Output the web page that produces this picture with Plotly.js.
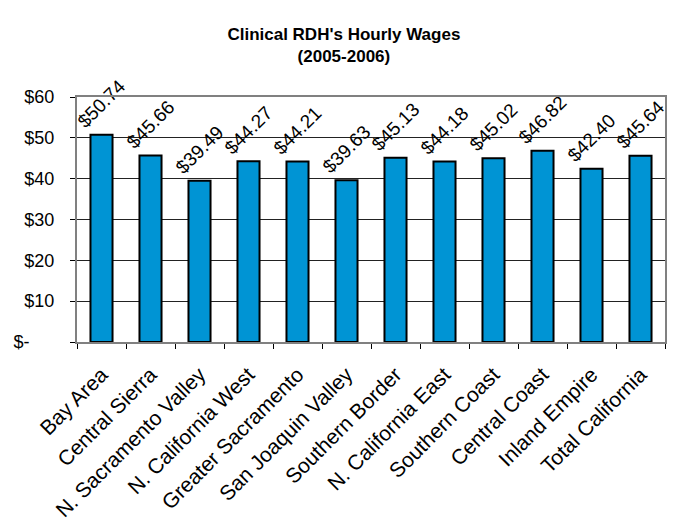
<!DOCTYPE html>
<html><head><meta charset="utf-8">
<script src="https://cdn.plot.ly/plotly-3.0.1.min.js"></script>
<style>html,body{margin:0;padding:0;background:#fff}#chart{width:681px;height:529px}</style>
</head><body><div id="chart"></div>
<script>
const categories = ["Bay Area","Central Sierra","N. Sacramento Valley","N. California West","Greater Sacramento","San Joaquin Valley","Southern Border","N. California East","Southern Coast","Central Coast","Inland Empire","Total California"];
const wages = [50.74,45.66,39.49,44.27,44.21,39.63,45.13,44.18,45.02,46.82,42.40,45.64];
const yTickVals = [0,10,20,30,40,50,60];
const yTickText = ["$-\u00a0\u00a0\u00a0\u00a0\u00a0","$10","$20","$30","$40","$50","$60"];

const font = "Liberation Sans";
Plotly.newPlot('chart',[{
  type:'bar', x:categories, y:wages, width:0.45,
  text:wages.map(v=>'$'+v.toFixed(2)), textposition:'outside', textangle:-45,
  cliponaxis:false, constraintext:'none',
  outsidetextfont:{family:font,size:19,color:'#000'},
  marker:{color:'#0094D4', line:{color:'#000',width:2}}
}],{
  width:681,height:529,
  margin:{l:77,r:16,t:97,b:187},
  paper_bgcolor:'#fff', plot_bgcolor:'#fff',
  title:{text:"<b>Clinical RDH's Hourly Wages<br>(2005-2006)</b>", font:{family:font,size:17,color:'#000'}, x:0.505, xanchor:'center', y:0.925, yanchor:'top'},
  showlegend:false,
  xaxis:{type:'category', tickangle:-45, ticks:'outside', tickson:'boundaries', ticklen:5, tickcolor:'#000',
    ticklabelstandoff:10,
    showline:true, linecolor:'#808080', linewidth:2, mirror:true, showgrid:false,
    tickfont:{family:font,size:21,color:'#000'}},
  yaxis:{range:[0,60], tickvals:yTickVals, ticktext:yTickText, ticks:'outside', ticklen:5, tickcolor:'#000',
    ticklabelstandoff:12, showline:true, linecolor:'#808080', linewidth:2, mirror:true,
    showgrid:true, gridcolor:'#222', gridwidth:1, zeroline:false,
    tickfont:{family:font,size:18,color:'#000'}}
},{displayModeBar:false});
</script></body></html>
